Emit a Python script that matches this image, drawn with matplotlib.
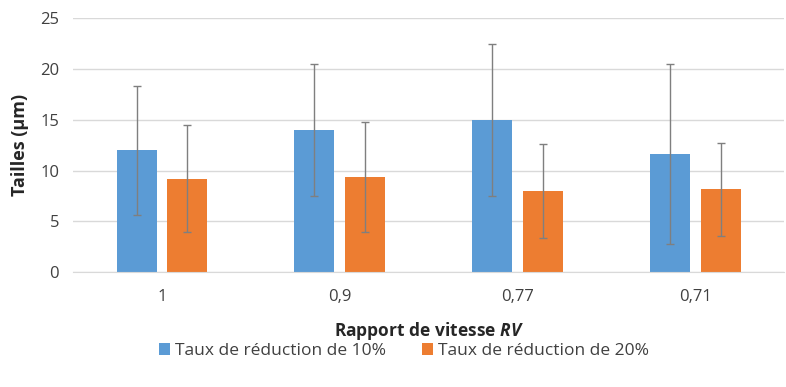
import numpy as np
import matplotlib.pyplot as plt

plt.rcParams['font.family'] = ['Open Sans', 'DejaVu Sans']
plt.rcParams['mathtext.fontset'] = 'custom'
plt.rcParams['mathtext.it'] = 'Open Sans:italic:bold'

categories = ['1', '0,9', '0,77', '0,71']
taux_10 = [12.0, 14.0, 15.0, 11.6]
err_10 = [6.35, 6.5, 7.5, 8.85]
taux_20 = [9.2, 9.35, 8.0, 8.15]
err_20 = [5.25, 5.4, 4.6, 4.6]

fig = plt.figure(figsize=(7.86, 3.87), dpi=100)
ax = fig.add_axes([0.093, 0.297, 0.905, 0.656])

x = np.arange(len(categories))
w = 0.225
off = 0.143
err_kw = dict(ecolor='#7f7f7f', elinewidth=1.0, capsize=3, capthick=1.0)

ax.bar(x - off, taux_10, w, yerr=err_10, color='#5B9BD5', error_kw=err_kw,
       label='Taux de réduction de 10%', zorder=2)
ax.bar(x + off, taux_20, w, yerr=err_20, color='#ED7D31', error_kw=err_kw,
       label='Taux de réduction de 20%', zorder=2)

ax.set_xlim(-0.5, len(categories) - 0.5)
ax.set_ylim(0, 25)
ax.set_yticks(range(0, 26, 5))
ax.set_xticks(x)
ax.set_xticklabels(categories)
ax.yaxis.grid(True, color='#d9d9d9', linewidth=1, zorder=0)
ax.set_axisbelow(True)
for s in ['top', 'right', 'left']:
    ax.spines[s].set_visible(False)
ax.spines['bottom'].set_color('#d9d9d9')
ax.tick_params(axis='both', length=0, labelsize=12, colors='#404040', pad=10)
ax.tick_params(axis='x', pad=12)

ax.set_xlabel('Rapport de vitesse $RV$', fontsize=12.5, fontweight='bold',
              color='#262626', labelpad=11)
ax.set_ylabel('Tailles (µm)', fontsize=13, fontweight='bold', color='#262626', labelpad=8)

fig.legend(loc='center', bbox_to_anchor=(0.514, 0.092), ncol=2, frameon=False,
           fontsize=12.5, handlelength=0.6, handleheight=0.7, columnspacing=2.1,
           handletextpad=0.3, labelcolor='#404040')

fig.savefig('out.png', dpi=100)
